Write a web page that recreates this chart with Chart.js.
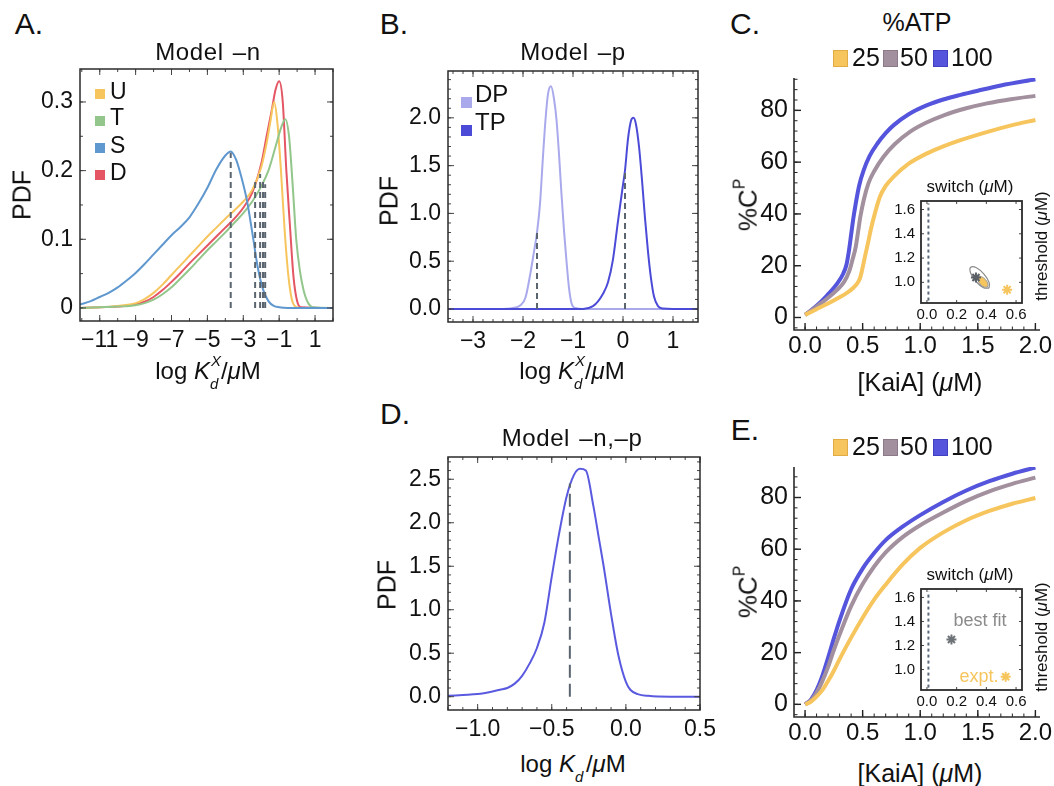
<!DOCTYPE html>
<html>
<head>
<meta charset="utf-8">
<script src="https://cdn.jsdelivr.net/npm/chart.js@4.4.1/dist/chart.umd.min.js"></script>
<style>
  body { margin: 0; background: #fff; width: 1054px; height: 786px; position: relative; overflow: hidden;
         font-family: "Liberation Sans", Arial, sans-serif; color: #111; }
  canvas { position: absolute; }
  .t { position: absolute; white-space: nowrap; line-height: 1; transform: translate(-50%, -50%); }
  .rot { transform: translate(-50%, -50%) rotate(-90deg); }
  .lab { position: absolute; white-space: nowrap; line-height: 1; transform: translateY(-50%); }
  .sw { position: absolute; box-sizing: border-box; }
  .title { font-size: 24px; word-spacing: 2px; letter-spacing: 0.6px; }
  .ss { display: inline-block; position: relative; width: 11px; height: 0; }
  .ss span { position: absolute; left: 0; font-size: 15px; line-height: 1; font-style: italic; }
  .ss .up { top: -26px; left: 1px; }
  .ss .dn { top: -3px; }
  sup.p { font-size: 0.6em; vertical-align: 0.75em; }
</style>
</head>
<body>

<canvas id="chA" width="311" height="301" style="left:30px;top:60px"></canvas>
<canvas id="chB" width="304" height="300" style="left:398px;top:62px"></canvas>
<canvas id="chD" width="322" height="302" style="left:398px;top:448px"></canvas>
<canvas id="chC" width="310" height="300" style="left:744px;top:70px"></canvas>
<canvas id="chE" width="310" height="298" style="left:744px;top:459px"></canvas>
<canvas id="inC" width="141" height="135" style="left:888px;top:194px"></canvas>
<canvas id="inE" width="141" height="134" style="left:888px;top:582px"></canvas>

<!-- panel letters and titles -->
<div class="t" style="left:29px;top:24px;font-size:30px">A.</div>
<div class="t" style="left:394px;top:24px;font-size:30px">B.</div>
<div class="t" style="left:745px;top:24px;font-size:30px">C.</div>
<div class="t" style="left:395px;top:414px;font-size:30px">D.</div>
<div class="t" style="left:745px;top:430px;font-size:30px">E.</div>

<div class="t title" style="left:208px;top:52px">Model –n</div>
<div class="t title" style="left:573px;top:52px">Model –p</div>
<div class="t title" style="left:572px;top:438px">Model –n,–p</div>
<div class="t" style="left:917px;top:22px;font-size:25px">%ATP</div>

<!-- axis titles -->
<div class="t" style="left:208px;top:371px;font-size:24px">log <i>K</i><span class="ss"><span class="up">X</span><span class="dn">d</span></span>/<i>μ</i>M</div>
<div class="t" style="left:572px;top:371px;font-size:24px">log <i>K</i><span class="ss"><span class="up">X</span><span class="dn">d</span></span>/<i>μ</i>M</div>
<div class="t" style="left:573px;top:764px;font-size:24px">log <i>K</i><span class="ss"><span class="dn">d</span></span>/<i>μ</i>M</div>
<div class="t rot" style="left:22px;top:195px;font-size:25px">PDF</div>
<div class="t rot" style="left:389px;top:201px;font-size:25px">PDF</div>
<div class="t rot" style="left:387px;top:585px;font-size:25px">PDF</div>
<div class="t" style="left:920px;top:382px;font-size:25px">[KaiA] (<i>μ</i>M)</div>
<div class="t" style="left:920px;top:773px;font-size:25px">[KaiA] (<i>μ</i>M)</div>
<div class="t rot" style="left:746px;top:205px;font-size:26px">%C<sup class="p">P</sup></div>
<div class="t rot" style="left:746px;top:592px;font-size:26px">%C<sup class="p">P</sup></div>

<!-- inset labels -->
<div class="t" style="left:970px;top:186px;font-size:17px">switch (<i>μ</i>M)</div>
<div class="t" style="left:970px;top:574px;font-size:17px">switch (<i>μ</i>M)</div>
<div class="t rot" style="left:1041px;top:246px;font-size:17px">threshold (<i>μ</i>M)</div>
<div class="t rot" style="left:1041px;top:637px;font-size:17px">threshold (<i>μ</i>M)</div>
<div class="t" style="left:980px;top:620px;font-size:18px;color:#8a8a8a">best fit</div>
<div class="t" style="left:979px;top:676px;font-size:18px;color:#f7c55d">expt.</div>

<!-- legend A -->
<div class="sw" style="left:95px;top:89px;width:10px;height:10px;background:#f7c55d"></div>
<div class="sw" style="left:95px;top:116px;width:10px;height:10px;background:#93c68a"></div>
<div class="sw" style="left:95px;top:143px;width:10px;height:10px;background:#5f97cf"></div>
<div class="sw" style="left:95px;top:170px;width:10px;height:10px;background:#e45663"></div>
<div class="lab" style="left:110px;top:91px;font-size:23px">U</div>
<div class="lab" style="left:110px;top:117px;font-size:23px">T</div>
<div class="lab" style="left:110px;top:145px;font-size:23px">S</div>
<div class="lab" style="left:110px;top:172px;font-size:23px">D</div>

<!-- legend B -->
<div class="sw" style="left:461px;top:97px;width:11px;height:11px;background:#a9a9ec"></div>
<div class="sw" style="left:461px;top:125px;width:11px;height:11px;background:#4b4bd8"></div>
<div class="lab" style="left:475px;top:94px;font-size:24px">DP</div>
<div class="lab" style="left:475px;top:122px;font-size:24px">TP</div>

<!-- legend C / E -->
<div class="sw" style="left:833px;top:50px;width:15px;height:17px;background:#f7c55d;border:1px solid #e2ac45"></div>
<div class="sw" style="left:883px;top:50px;width:15px;height:17px;background:#a3909e;border:1px solid #8c7a88"></div>
<div class="sw" style="left:933px;top:50px;width:15px;height:17px;background:#5454dc;border:1px solid #4040c0"></div>
<div class="lab" style="left:852px;top:57px;font-size:25px">25</div>
<div class="lab" style="left:900px;top:57px;font-size:25px">50</div>
<div class="lab" style="left:951px;top:57px;font-size:25px">100</div>
<div class="sw" style="left:833px;top:439px;width:15px;height:17px;background:#f7c55d;border:1px solid #e2ac45"></div>
<div class="sw" style="left:883px;top:439px;width:15px;height:17px;background:#a3909e;border:1px solid #8c7a88"></div>
<div class="sw" style="left:933px;top:439px;width:15px;height:17px;background:#5454dc;border:1px solid #4040c0"></div>
<div class="lab" style="left:852px;top:446px;font-size:25px">25</div>
<div class="lab" style="left:900px;top:446px;font-size:25px">50</div>
<div class="lab" style="left:951px;top:446px;font-size:25px">100</div>

<script>
// ---------- A. Model -n : PDF of log Kd for U, T, S, D
const aTicksX = [-11, -9, -7, -5, -3, -1, 1]
const aTicksY = [0, 0.1, 0.2, 0.3]
const aSx = [-12.1, -11.5, -11, -10.5, -10, -9.5, -9, -8.5, -8, -7.5, -7, -6.5, -6, -5.5, -5, -4.5, -4, -3.7, -3.4, -3.1, -2.8, -2.5, -2.2, -1.9, -1.6, -1.3, -1.0, -0.5, 2.0]
const aSy = [0.005, 0.01, 0.016, 0.022, 0.03, 0.04, 0.051, 0.064, 0.078, 0.092, 0.106, 0.118, 0.132, 0.152, 0.175, 0.202, 0.222, 0.228, 0.216, 0.19, 0.157, 0.11, 0.06, 0.027, 0.01, 0.003, 0.001, 0, 0]
const aUx = [-12.1, -11, -10, -9, -8.5, -8, -7.5, -7, -6.5, -6, -5.5, -5, -4.5, -4, -3.5, -3, -2.5, -2, -1.7, -1.5, -1.28, -1.1, -0.9, -0.7, -0.5, -0.3, -0.1, 0.2, 2.0]
const aUy = [0, 0.001, 0.003, 0.007, 0.013, 0.022, 0.034, 0.048, 0.062, 0.076, 0.09, 0.104, 0.117, 0.13, 0.142, 0.155, 0.172, 0.205, 0.24, 0.27, 0.30, 0.27, 0.2, 0.115, 0.05, 0.013, 0.002, 0, 0]
const aDx = [-12.1, -11, -10, -9, -8.5, -8, -7.5, -7, -6.5, -6, -5.5, -5, -4.5, -4, -3.5, -3, -2.5, -2, -1.7, -1.4, -1.2, -1.0, -0.8, -0.6, -0.4, -0.2, 0.0, 0.2, 2.0]
const aDy = [0, 0.001, 0.002, 0.005, 0.009, 0.016, 0.026, 0.038, 0.051, 0.065, 0.078, 0.091, 0.104, 0.117, 0.13, 0.146, 0.168, 0.21, 0.25, 0.29, 0.318, 0.33, 0.3, 0.2, 0.12, 0.045, 0.01, 0.001, 0]
const aTx = [-12.1, -11, -10, -9, -8.5, -8, -7.5, -7, -6.5, -6, -5.5, -5, -4.5, -4, -3.5, -3, -2.5, -2, -1.6, -1.2, -0.9, -0.66, -0.45, -0.25, -0.05, 0.15, 0.35, 0.6, 0.9, 2.0]
const aTy = [0, 0.001, 0.002, 0.004, 0.007, 0.012, 0.02, 0.03, 0.043, 0.056, 0.07, 0.084, 0.097, 0.11, 0.124, 0.138, 0.155, 0.177, 0.2, 0.235, 0.262, 0.275, 0.25, 0.18, 0.1, 0.055, 0.027, 0.008, 0.001, 0]
const aDashX = [-3.7, -2.34, -2.06, -1.9, -1.78]
const aDashTop = [0.226, 0.186, 0.195, 0.186, 0.18]

// ---------- B. Model -p : DP and TP
const bTicksX = [-3, -2, -1, 0, 1]
const bTicksY = [0, 0.5, 1, 1.5, 2]
const bDPx = [-3.5, -2.5, -2.2, -2.05, -1.95, -1.85, -1.78, -1.72, -1.66, -1.6, -1.55, -1.5, -1.44, -1.38, -1.33, -1.28, -1.23, -1.18, -1.13, -1.08, -1.03, -0.95, -0.8, 1.5]
const bDPy = [0, 0, 0.01, 0.04, 0.12, 0.38, 0.6, 0.8, 1.1, 1.6, 1.98, 2.25, 2.33, 2.2, 1.98, 1.62, 1.2, 0.82, 0.5, 0.22, 0.06, 0.01, 0, 0]
const bTPx = [-3.5, -0.8, -0.6, -0.5, -0.4, -0.3, -0.2, -0.1, 0.0, 0.04, 0.1, 0.16, 0.21, 0.26, 0.32, 0.38, 0.44, 0.5, 0.56, 0.62, 0.7, 0.8, 1.0, 1.5]
const bTPy = [0, 0, 0.03, 0.08, 0.16, 0.28, 0.52, 0.92, 1.3, 1.45, 1.78, 1.97, 2.0, 1.93, 1.7, 1.35, 0.95, 0.6, 0.32, 0.13, 0.03, 0.005, 0, 0]
const bDashX = [-1.72, 0.04]
const bDashTop = [0.8, 1.45]

// ---------- D. Model -n,-p
const dTicksX = [-1, -0.5, 0, 0.5]
const dTicksY = [0, 0.5, 1, 1.5, 2, 2.5]
const dX = [-1.2, -1.1, -1.0, -0.9, -0.85, -0.8, -0.75, -0.7, -0.65, -0.6, -0.55, -0.5, -0.45, -0.4, -0.35, -0.31, -0.27, -0.22, -0.18, -0.15, -0.1, -0.05, 0.0, 0.03, 0.08, 0.15, 0.3, 0.5]
const dY = [0.01, 0.02, 0.03, 0.06, 0.08, 0.1, 0.15, 0.24, 0.38, 0.56, 0.85, 1.38, 1.88, 2.3, 2.55, 2.62, 2.6, 2.2, 1.8, 1.5, 0.95, 0.47, 0.17, 0.08, 0.03, 0.01, 0, 0]
const dDashX = [-0.378]
const dDashTop = [2.45]

// ---------- C. %C^P vs [KaiA], model -n
const kaiTicks = [0, 0.5, 1, 1.5, 2]
const cpTicks = [0, 20, 40, 60, 80]
const c100x = [0, 0.1, 0.19, 0.28, 0.33, 0.36, 0.38, 0.4, 0.42, 0.44, 0.47, 0.51, 0.56, 0.63, 0.7, 0.77, 0.9, 1.06, 1.2, 1.35, 1.5, 1.7, 2.0]
const c100y = [1, 4.5, 8.5, 13.2, 16.8, 20.5, 25.5, 32, 38.5, 44, 51, 57, 62.3, 67.3, 71.2, 74.3, 78.5, 82, 84.2, 86, 87.6, 89.6, 92]
const c50x = [0, 0.1, 0.2, 0.28, 0.34, 0.383, 0.41, 0.44, 0.46, 0.48, 0.51, 0.55, 0.6, 0.68, 0.78, 0.91, 1.05, 1.21, 1.4, 1.58, 1.8, 2.0]
const c50y = [1, 4.2, 7.6, 10.8, 13.8, 17.8, 22, 27.3, 33, 38.9, 45.5, 51.8, 56.5, 62, 67, 71.7, 75.2, 78.2, 80.8, 82.7, 84.4, 85.6]
const c25x = [0, 0.1, 0.2, 0.28, 0.36, 0.42, 0.46, 0.48, 0.5, 0.52, 0.55, 0.57, 0.61, 0.65, 0.7, 0.77, 0.9, 1.06, 1.2, 1.35, 1.6, 1.8, 2.0]
const c25y = [1, 3.2, 5.4, 7.3, 9.4, 11.5, 13.6, 15.6, 19.3, 23.5, 29.5, 33.8, 40.8, 46.6, 50.8, 54.4, 59.4, 63.4, 66.1, 68.5, 71.9, 74.3, 76.3]

// ---------- E. %C^P vs [KaiA], model -n,-p
const eX = [0, 0.05, 0.1, 0.15, 0.2, 0.25, 0.3, 0.4, 0.5, 0.6, 0.7, 0.85, 1.0, 1.2, 1.4, 1.6, 1.8, 2.0]
const e100y = [0, 1.8, 5.5, 11, 18, 25.5, 32.5, 44.5, 52.5, 58.5, 63.5, 68.8, 73.2, 78.3, 82.7, 86.3, 89.2, 91.6]
const e50y = [0, 1.5, 4.5, 9, 14.5, 21, 27, 38, 46.5, 53.3, 58.8, 64.8, 69.3, 74.2, 78.7, 82.4, 85.3, 87.7]
const e25y = [0, 1, 3, 5.5, 9, 13, 17.5, 25.8, 33.5, 40.5, 46.3, 54.2, 60.5, 66.5, 71.2, 74.8, 77.6, 79.8]

// ---------- insets: switch vs threshold
const inTicksX = [0, 0.2, 0.4, 0.6]
const inTicksY = [1.0, 1.2, 1.4, 1.6]
const inDashX = [0.01, 0.01]
const inDashY = [0.85, 1.65]
const cOuterX = [0.418, 0.419, 0.384, 0.333, 0.295, 0.294, 0.329, 0.381, 0.418]
const cOuterY = [0.952, 0.998, 1.068, 1.12, 1.124, 1.077, 1.009, 0.956, 0.952]
const cInnerX = [0.407, 0.411, 0.394, 0.367, 0.346, 0.343, 0.359, 0.386, 0.407]
const cInnerY = [0.961, 0.987, 1.023, 1.047, 1.047, 1.021, 0.985, 0.961, 0.961]
const cFit = [0.33, 1.04]
const cExpt = [0.54, 0.94]
const eFit = [0.165, 1.25]
const eExpt = [0.53, 0.94]

const ORANGE = '#f7c55d', MAUVE = '#a3909e', BLUE = '#5454dc', DASH = '#5b6570'

Chart.defaults.font.family = '"Liberation Sans", Arial, sans-serif'
Chart.defaults.color = '#111'
Chart.defaults.animation = false
Chart.defaults.responsive = false
Chart.defaults.devicePixelRatio = 1
Chart.defaults.plugins.legend.display = false
Chart.defaults.plugins.tooltip.enabled = false

// frame (box or left/bottom axes) with inward major + minor ticks, Mathematica style
const frameTicks = {
    id: 'frameTicks',
    afterDatasetsDraw(chart, args, o) {
        if (!o.on) return
        const { ctx, chartArea: a } = chart
        const sx = chart.scales.x, sy = chart.scales.y
        const box = o.mode !== 'axes'
        const seg = (x1, y1, x2, y2) => { ctx.beginPath(); ctx.moveTo(x1, y1); ctx.lineTo(x2, y2); ctx.stroke() }
        const mark = (scale, v, len) => {
            const p = scale.getPixelForValue(v)
            if (scale.isHorizontal()) {
                seg(p, a.bottom, p, a.bottom - len)
                if (box) seg(p, a.top, p, a.top + len)
            } else {
                seg(a.left, p, a.left + len, p)
                if (box) seg(a.right, p, a.right - len, p)
            }
        }
        const minors = (scale, step) => {
            if (!step) return
            for (let k = Math.ceil(scale.min / step - 1e-6); k * step <= scale.max + 1e-9; k++) mark(scale, k * step, o.len / 2)
        }
        ctx.save()
        ctx.strokeStyle = o.tickColor || '#444'
        ctx.lineWidth = 1
        minors(sx, o.xMinor)
        minors(sy, o.yMinor)
        ctx.lineWidth = o.majorWidth || 1
        sx.ticks.forEach(t => mark(sx, t.value, o.len))
        sy.ticks.forEach(t => mark(sy, t.value, o.len))
        ctx.strokeStyle = '#2b2b2b'
        ctx.lineWidth = o.width || 1.5
        if (box) ctx.strokeRect(a.left, a.top, a.width, a.height)
        else {
            ctx.beginPath()
            ctx.moveTo(a.left, a.top); ctx.lineTo(a.left, a.bottom); ctx.lineTo(a.right, a.bottom)
            ctx.stroke()
        }
        ctx.restore()
    }
}
Chart.register(frameTicks)

const pts = (xs, ys) => xs.map((x, i) => ({ x, y: ys[i] }))
const minus = v => (v < 0 ? '\u2212' : '') + Math.abs(v)
const minus1 = v => (v < 0 ? '\u2212' : '') + Math.abs(v).toFixed(1)
const fix1 = v => v.toFixed(1)

const curve = (xs, ys, color, width) => ({
    data: pts(xs, ys), showLine: true, borderColor: color, borderWidth: width,
    pointRadius: 0, cubicInterpolationMode: 'monotone', fill: false, order: 2
})
const dashes = (xs, tops, dash) => xs.map((x, i) => ({
    data: [{ x, y: 0 }, { x, y: tops[i] }], showLine: true, borderColor: DASH,
    borderWidth: 2, borderDash: dash || [6, 4], pointRadius: 0, order: 1
}))

function axis(horizontal, min, max, ticks, fmt, size, fit, pad) {
    return {
        type: 'linear', min, max,
        afterBuildTicks: s => { s.ticks = ticks.map(v => ({ value: v })) },
        afterFit: s => {
            if (horizontal) s.height = fit; else s.width = fit
            // keep the plot box where it is: no automatic room for edge labels
            s.paddingTop = s.paddingBottom = s.paddingLeft = s.paddingRight = 0
        },
        ticks: { callback: fmt, font: { size }, color: '#111', maxRotation: 0, autoSkip: false, padding: pad },
        grid: { display: false, drawTicks: false },
        border: { display: false }
    }
}

function panel(id, datasets, x, y, padding, frame) {
    return new Chart(document.getElementById(id), {
        type: 'scatter',
        data: { datasets },
        options: {
            layout: { padding },
            scales: { x, y },
            plugins: { frameTicks: frame }
        }
    })
}

// A
panel('chA', [
    ...dashes(aDashX, aDashTop),
    curve(aSx, aSy, '#5f97cf', 2),
    curve(aTx, aTy, '#93c68a', 2),
    curve(aUx, aUy, ORANGE, 2),
    curve(aDx, aDy, '#e45663', 2)
],
    axis(true, -12.1, 2.0, aTicksX, minus, 23, 40, 6),
    axis(false, -0.019, 0.348, aTicksY, v => v === 0 ? '0' : v.toFixed(1), 23, 50, 7),
    { top: 9, right: 8, left: 0, bottom: 0 },
    { on: true, len: 6, xMinor: 1, yMinor: 0.05 })

// B
panel('chB', [
    ...dashes(bDashX, bDashTop),
    curve(bDPx, bDPy, '#a9a9ec', 2),
    Object.assign(curve(bTPx, bTPy, '#4b4bd8', 2), { order: 1.5 })
],
    axis(true, -3.5, 1.5, bTicksX, minus, 23, 40, 6),
    axis(false, -0.136, 2.49, bTicksY, fix1, 23, 50, 7),
    { top: 9, right: 4, left: 0, bottom: 0 },
    { on: true, len: 6, xMinor: 0.2, yMinor: 0.1 })

// D
panel('chD', [
    ...dashes(dDashX, dDashTop, [13, 6]),
    curve(dX, dY, '#5a5ae0', 2)
],
    axis(true, -1.2, 0.5, dTicksX, minus1, 23, 40, 6),
    axis(false, -0.153, 2.756, dTicksY, fix1, 23, 50, 7),
    { top: 9, right: 20, left: 0, bottom: 0 },
    { on: true, len: 6, xMinor: 0.1, yMinor: 0.1 })

const kaiFrame = { on: true, mode: 'axes', len: 7, xMinor: 0.1, yMinor: 4, width: 1.6, tickColor: '#222', majorWidth: 1.4 }

// C
panel('chC', [
    curve(c25x, c25y, ORANGE, 4),
    curve(c50x, c50y, MAUVE, 4),
    curve(c100x, c100y, BLUE, 4)
],
    axis(true, -0.096, 2.04, kaiTicks, fix1, 24, 40, 2),
    axis(false, -4.83, 92.5, cpTicks, String, 25, 50, 6),
    { top: 8, right: 14, left: 0, bottom: 0 },
    kaiFrame)

// E
panel('chE', [
    curve(eX, e25y, ORANGE, 4),
    curve(eX, e50y, MAUVE, 4),
    curve(eX, e100y, BLUE, 4)
],
    axis(true, -0.096, 2.04, kaiTicks, fix1, 24, 40, 2),
    axis(false, -4.9, 91.8, cpTicks, String, 25, 50, 6),
    { top: 8, right: 14, left: 0, bottom: 0 },
    kaiFrame)

// insets
const star = (p, color, r) => ({
    data: [{ x: p[0], y: p[1] }], pointStyle: 'star', pointRadius: r, borderColor: color,
    borderWidth: 2, backgroundColor: color, order: 0
})
const inDash = {
    data: pts(inDashX, inDashY), showLine: true, borderColor: '#5b6a7a', borderWidth: 2,
    borderDash: [3, 3], pointRadius: 0, order: 3
}
const inFrame = { on: true, len: 3, width: 1.8 }

panel('inC', [
    inDash,
    { data: pts(cOuterX, cOuterY), showLine: true, borderColor: '#8a8a8a', borderWidth: 1.2, pointRadius: 0, tension: 0.4, fill: false, order: 2 },
    { data: pts(cInnerX, cInnerY), showLine: true, borderColor: '#9a9a9a', borderWidth: 1, backgroundColor: ORANGE, pointRadius: 0, tension: 0.4, fill: 'shape', order: 1 },
    star(cFit, '#5a5f66', 5),
    star(cExpt, ORANGE, 5)
],
    axis(true, -0.04, 0.64, inTicksX, fix1, 15, 26, 3),
    axis(false, 0.83, 1.67, inTicksY, fix1, 15, 33, 6),
    { top: 6, right: 6, left: 0, bottom: 0 },
    inFrame)

panel('inE', [
    inDash,
    star(eFit, '#6e7378', 5),
    star(eExpt, ORANGE, 5)
],
    axis(true, -0.04, 0.64, inTicksX, fix1, 15, 26, 3),
    axis(false, 0.83, 1.67, inTicksY, fix1, 15, 33, 6),
    { top: 6, right: 6, left: 0, bottom: 0 },
    inFrame)
</script>
</body>
</html>
